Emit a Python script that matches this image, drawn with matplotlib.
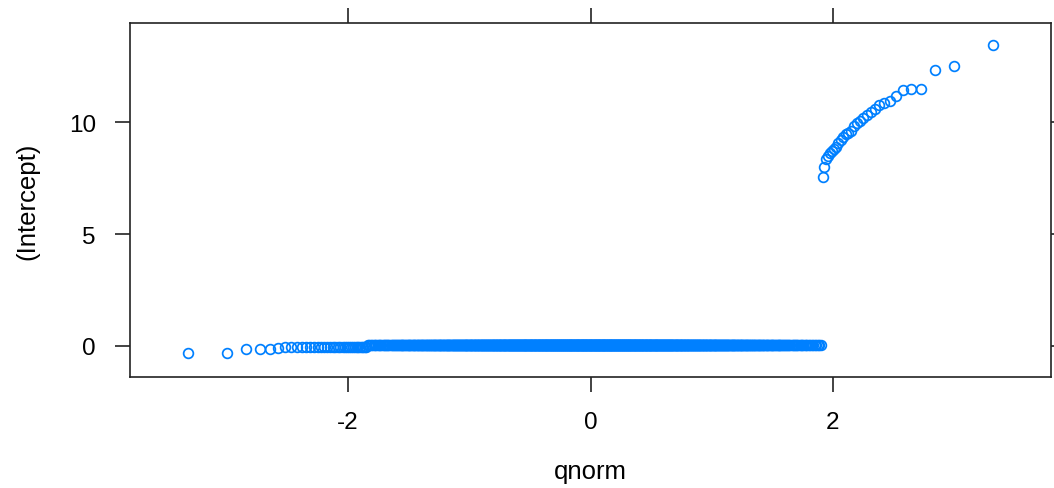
import numpy as np
import matplotlib
matplotlib.use('Agg')
from matplotlib import pyplot as plt
from statistics import NormalDist

plt.rcParams['font.family'] = ['Liberation Sans', 'DejaVu Sans']

# random-effect intercepts (sorted)
n_total = 1100
low_tail = [-0.31, -0.31, -0.15, -0.14, -0.13, -0.07, -0.06, -0.06]
band_low, n_band_low = -0.05, 28          # flat run left of about -1.85
band_high = 0.03                          # flat run up to about 1.9
high_tail = [7.55, 8.0, 8.35, 8.5, 8.6, 8.7, 8.8, 8.9, 9.05, 9.2,
             9.35, 9.45, 9.5, 9.6, 9.8, 9.95, 10.05, 10.2, 10.3, 10.45,
             10.6, 10.75, 10.85, 10.95, 11.15, 11.45, 11.47, 11.47, 12.3, 12.5,
             13.45]
n_band_high = n_total - len(low_tail) - n_band_low - len(high_tail)

y = np.array(low_tail + [band_low] * n_band_low + [band_high] * n_band_high + high_tail)
y = np.sort(y)
n = len(y)
pp = (np.arange(1, n + 1) - 0.5) / n                  # ppoints
x = np.array([NormalDist().inv_cdf(p) for p in pp])   # qnorm

x_ticks = [-2, 0, 2]
y_ticks = [0, 5, 10]

fig = plt.figure(figsize=(10.54, 4.89), dpi=100)
ax = fig.add_axes([130 / 1054, 111 / 489, 921 / 1054, 354 / 489])

ax.plot(x, y, linestyle='none', marker='o', markersize=7.0,
        markerfacecolor='none', markeredgecolor='#0080ff', markeredgewidth=1.25)

ax.set_xlim(-3.798, 3.798)
ax.set_ylim(-1.384, 14.42)
ax.set_xticks(x_ticks)
ax.set_yticks(y_ticks)
ax.set_xticklabels([str(v) for v in x_ticks])
ax.set_yticklabels([str(v) for v in y_ticks])

for s in ax.spines.values():
    s.set_linewidth(1.2)
    s.set_color('#222222')
ax.tick_params(axis='both', which='both', direction='out', length=11, width=1.2,
               color='#222222', labelsize=17.5, pad=13.5,
               top=True, right=True, labeltop=False, labelright=False)

fig.text(27 / 1054, 1 - 201 / 489, '(Intercept)', rotation=90, fontsize=18.5,
         ha='center', va='center')
fig.text(590 / 1054, 1 - 479 / 489, 'qnorm', fontsize=18.5, ha='center', va='baseline')

plt.savefig('out.png', dpi=100)
